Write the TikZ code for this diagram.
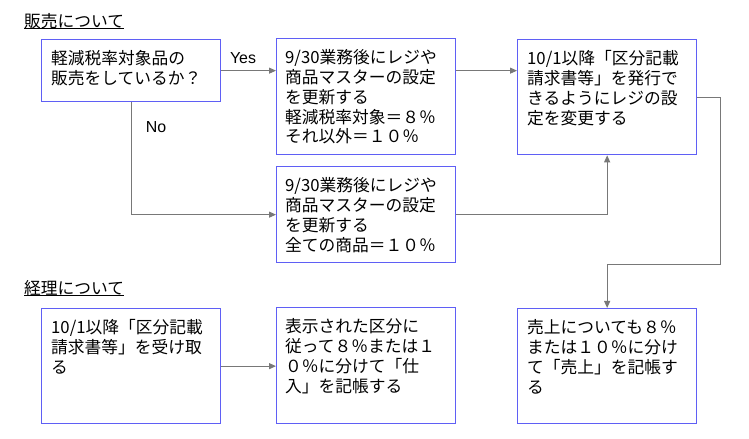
\documentclass[tikz,border=0pt]{standalone}
\usepackage{fontspec}
\newfontfamily\jp{Noto Sans CJK JP}
\newfontfamily\lat{Liberation Sans}
\usetikzlibrary{arrows.meta}
\definecolor{boxblue}{RGB}{95,95,245}
\definecolor{linegray}{RGB}{120,120,120}
\begin{document}
\begin{tikzpicture}[x=1bp,y=-1bp,
  box/.style={draw=boxblue, line width=1.3bp, fill=white, minimum width=179bp, inner sep=0pt, anchor=north west},
  txt/.style={anchor=north west, align=left, font=\jp\fontsize{16.8}{20}\selectfont, inner sep=0pt},
  hdr/.style={anchor=west, font=\jp\fontsize{16.8}{20}\selectfont, inner sep=0pt},
  lbl/.style={font=\lat\fontsize{16}{20}\selectfont, inner sep=0pt},
  conn/.style={draw=linegray, line width=1bp, -{Triangle[length=7bp,width=6bp]}},
  plain/.style={draw=linegray, line width=1bp},
]
\useasboundingbox (0,0) rectangle (749,439);

% headers
\node[hdr] (h1) at (24,21) {販売について};
\draw[line width=1bp] (h1.south west) -- (h1.south east);
\node[hdr] (h2) at (24,288) {経理について};
\draw[line width=1bp] (h2.south west) -- (h2.south east);

% boxes
\node[box, minimum height=62bp] (a) at (41,39) {};
\node[box, minimum height=116bp] (b) at (276,38) {};
\node[box, minimum height=96bp] (c) at (276,166) {};
\node[box, minimum height=115bp] (d) at (517,39) {};
\node[box, minimum height=115bp] (e) at (41,308) {};
\node[box, minimum height=116bp] (f) at (276,307) {};
\node[box, minimum height=115bp] (g) at (517,308) {};

% texts
\node[txt] (ta) at ([shift={(10,11)}]a.north west) {軽減税率対象品の\\販売をしているか？};
\node[txt] (tb) at ([shift={(9,11)}]b.north west) {9/30業務後にレジや\\商品マスターの設定\\を更新する\\軽減税率対象＝８％\\それ以外＝１０％};
\node[txt] (tc) at ([shift={(9,11)}]c.north west) {9/30業務後にレジや\\商品マスターの設定\\を更新する\\全ての商品＝１０％};
\node[txt] (td) at ([shift={(10,11)}]d.north west) {10/1以降「区分記載\\請求書等」を発行で\\きるようにレジの設\\定を変更する};
\node[txt] (te) at ([shift={(10,11)}]e.north west) {10/1以降「区分記載\\請求書等」を受け取\\る};
\node[txt] (tf) at ([shift={(9,11)}]f.north west) {表示された区分に\\従って８％または１\\０％に分けて「仕\\入」を記帳する};
\node[txt] (tg) at ([shift={(10,11)}]g.north west) {売上についても８％\\または１０％に分け\\て「売上」を記帳す\\る};

% labels
\node[lbl] (yes) at (243,58) {Yes};
\node[lbl] (no) at (156,127) {No};

% connectors
\draw[conn] (a.east) -- (a.east -| b.west);
\draw[conn] (a.south) |- (c.west);
\draw[conn] (b.east |- a.east) -- (d.west |- a.east);
\draw[conn] (c.east) -| (d.south);
\coordinate (r1) at (720,265);
\draw[conn] (d.east) -| (r1) -| (g.north);
\draw[conn] (e.east) -- (e.east -| f.west);
\end{tikzpicture}
\end{document}
